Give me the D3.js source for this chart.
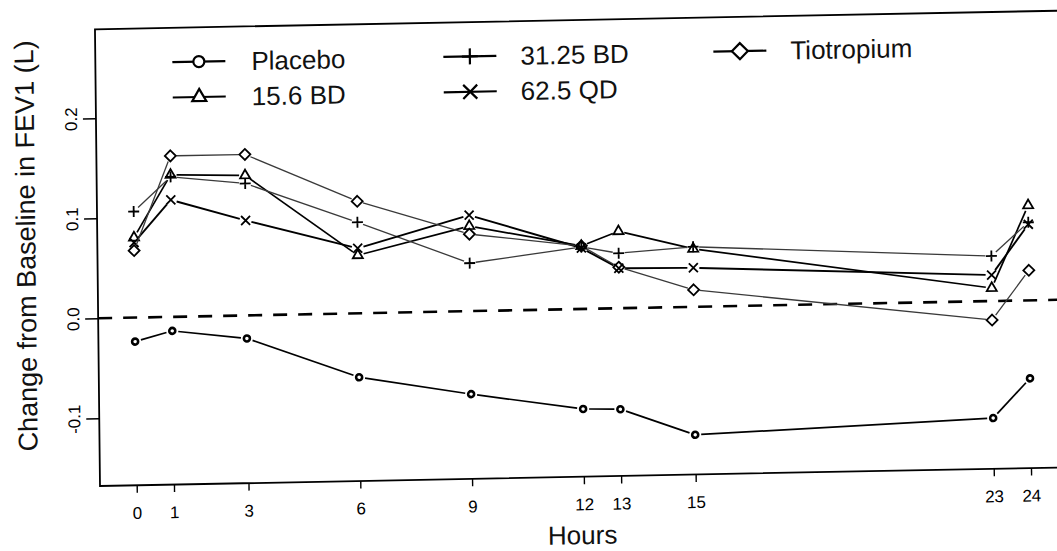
<!DOCTYPE html>
<html>
<head>
<meta charset="utf-8">
<script src="https://cdn.jsdelivr.net/npm/d3@7"></script>
<style>
  html, body { margin: 0; padding: 0; background: #fff; }
  svg { display: block; font-family: "Liberation Sans", Arial, Helvetica, sans-serif; }
</style>
</head>
<body>
<svg id="chart" width="1057" height="551"></svg>
<script>
// Time points (hours after dose) and tick labels
const hours = [0, 1, 3, 6, 9, 12, 13, 15, 23, 24];
const hourLabels = ["0", "1", "3", "6", "9", "12", "13", "15", "23", "24"];
const yTicks = [-0.1, 0.0, 0.1, 0.2];
const yTickLabels = ["-0.1", "0.0", "0.1", "0.2"];

// Mean change from baseline in FEV1 (L) per treatment
const placebo    = [-0.024, -0.014, -0.023, -0.064, -0.083, -0.100, -0.101, -0.128, -0.117, -0.078];
const bd156      = [ 0.080,  0.142,  0.140,  0.058,  0.085,  0.063,  0.077,  0.058,  0.013,  0.095];
const bd3125     = [ 0.106,  0.140,  0.132,  0.091,  0.048,  0.062,  0.055,  0.060,  0.045,  0.078];
const qd625      = [ 0.075,  0.117,  0.095,  0.065,  0.096,  0.061,  0.040,  0.039,  0.026,  0.076];
const tiotropium = [ 0.067,  0.161,  0.161,  0.112,  0.077,  0.063,  0.041,  0.017, -0.019,  0.030];

const seriesNames = ["Placebo", "15.6 BD", "31.25 BD", "62.5 QD", "Tiotropium"];
const seriesValues = [placebo, bd156, bd3125, qd625, tiotropium];
const seriesMarkers = ["circle", "triangle", "plus", "times", "diamond"];
const seriesStroke = ["#000", "#000", "#3a3a3a", "#000", "#3a3a3a"];
const seriesWidth = [1.7, 1.7, 1.3, 1.9, 1.3];

const svg = d3.select("#chart");

// The whole figure sits on a slightly sheared page
const page = svg.append("g")
  .attr("transform", "matrix(1,-0.0193,0.011,1,-5.35,1.93)");

const x = d3.scaleLinear().domain([0, 24]).range([136.7, 1031]);
const y = d3.scaleLinear().domain([-0.1, 0.2]).range([418.3, 118.3]);

const frameLeft = 100, frameRight = 1075;
const frameTop = y(0.289), frameBottom = y(-0.1677);

// Plot box
page.append("rect")
  .attr("x", frameLeft).attr("y", frameTop)
  .attr("width", frameRight - frameLeft).attr("height", frameBottom - frameTop)
  .attr("fill", "none").attr("stroke", "#000").attr("stroke-width", 1.8);

// X axis ticks and labels
const xAxis = d3.axisBottom(x)
  .tickValues(hours)
  .tickFormat((d, i) => hourLabels[i])
  .tickSizeInner(7.5).tickSizeOuter(0).tickPadding(14);
const gx = page.append("g").attr("transform", `translate(0,${frameBottom})`).call(xAxis);
gx.select(".domain").remove();
gx.selectAll(".tick line").attr("stroke", "#000").attr("stroke-width", 1.4);
gx.selectAll(".tick text")
  .attr("font-size", 17).attr("fill", "#000")
  .attr("font-family", "\"Liberation Sans\", Arial, sans-serif");

// Y axis ticks and labels (labels run vertically)
const yAxis = d3.axisLeft(y)
  .tickValues(yTicks)
  .tickFormat((d, i) => yTickLabels[i])
  .tickSizeInner(13).tickSizeOuter(0).tickPadding(0);
const gy = page.append("g").attr("transform", `translate(${frameLeft},0)`).call(yAxis);
gy.select(".domain").remove();
gy.selectAll(".tick line").attr("stroke", "#000").attr("stroke-width", 1.4);
gy.selectAll(".tick text")
  .attr("x", null).attr("dy", null)
  .attr("text-anchor", "middle")
  .attr("transform", "translate(-19,0) rotate(-90)")
  .attr("font-size", 17).attr("fill", "#000")
  .attr("font-family", "\"Liberation Sans\", Arial, sans-serif");

// Axis titles
page.append("text")
  .attr("transform", `translate(38,${y(0.0737)}) rotate(-90)`)
  .attr("text-anchor", "middle")
  .attr("font-size", 27)
  .attr("fill", "#111")
  .text("Change from Baseline in FEV1 (L)");

page.append("text")
  .attr("x", 582).attr("y", 553.5)
  .attr("text-anchor", "middle")
  .attr("font-size", 26)
  .attr("fill", "#111")
  .text("Hours");

// Reference line at zero change
page.append("line")
  .attr("x1", frameLeft).attr("x2", frameRight)
  .attr("y1", y(0)).attr("y2", y(0))
  .attr("stroke", "#000").attr("stroke-width", 2.6)
  .attr("stroke-dasharray", "14,11");

// Marker shapes (R plotting characters 1-5)
function markerPath(kind, s) {
  const p = d3.path();
  if (kind === "circle") {
    p.moveTo(s, 0); p.arc(0, 0, s, 0, 2 * Math.PI);
  } else if (kind === "triangle") {
    const h = s * Math.sqrt(3) / 2;
    p.moveTo(0, -h * 2 / 3); p.lineTo(s / 2, h / 3); p.lineTo(-s / 2, h / 3); p.closePath();
  } else if (kind === "plus") {
    p.moveTo(-s, 0); p.lineTo(s, 0); p.moveTo(0, -s); p.lineTo(0, s);
  } else if (kind === "times") {
    p.moveTo(-s, -s); p.lineTo(s, s); p.moveTo(-s, s); p.lineTo(s, -s);
  } else if (kind === "diamond") {
    p.moveTo(0, -s); p.lineTo(s, 0); p.lineTo(0, s); p.lineTo(-s, 0); p.closePath();
  }
  return p.toString();
}
const dataSize = { circle: 3.0, triangle: 10, plus: 5.5, times: 4.5, diamond: 5.5 };
const legendSize = { circle: 5.5, triangle: 14, plus: 8, times: 7, diamond: 8 };

// Series: segments with a small gap around each point, then markers
const gap = 6;
seriesValues.forEach((vals, si) => {
  const pts = hours.map((h, i) => [x(h), y(vals[i])]);
  const g = page.append("g");
  const segs = d3.pairs(pts).map(([a, b]) => {
    const dx = b[0] - a[0], dy = b[1] - a[1];
    const len = Math.hypot(dx, dy);
    const ux = dx / len, uy = dy / len;
    return [[a[0] + ux * gap, a[1] + uy * gap], [b[0] - ux * gap, b[1] - uy * gap], len];
  }).filter(s => s[2] > 2 * gap);
  g.selectAll("line.seg").data(segs).join("line")
    .attr("class", "seg")
    .attr("x1", d => d[0][0]).attr("y1", d => d[0][1])
    .attr("x2", d => d[1][0]).attr("y2", d => d[1][1])
    .attr("stroke", seriesStroke[si]).attr("stroke-width", seriesWidth[si]);
  const kind = seriesMarkers[si];
  g.selectAll("path.pt").data(pts).join("path")
    .attr("class", "pt")
    .attr("transform", d => `translate(${d[0]},${d[1]})`)
    .attr("d", markerPath(kind, dataSize[kind]))
    .attr("fill", "none")
    .attr("stroke", "#000")
    .attr("stroke-width", kind === "circle" ? 2.6 : 1.8);
});

// Legend (three columns, two rows)
const legendPos = [
  { x: 177, y: 63.6, tx: 256 },
  { x: 177, y: 99,   tx: 256 },
  { x: 448, y: 63.6, tx: 525 },
  { x: 448, y: 99,   tx: 525 },
  { x: 718, y: 63.6, tx: 795 }
];
const legend = page.append("g");
seriesNames.forEach((name, si) => {
  const pos = legendPos[si];
  const kind = seriesMarkers[si];
  legend.append("line")
    .attr("x1", pos.x).attr("x2", pos.x + 53)
    .attr("y1", pos.y).attr("y2", pos.y)
    .attr("stroke", "#000").attr("stroke-width", 2.2);
  legend.append("path")
    .attr("transform", `translate(${pos.x + 26.5},${pos.y})`)
    .attr("d", markerPath(kind, legendSize[kind]))
    .attr("fill", kind === "plus" || kind === "times" ? "none" : "#fff")
    .attr("stroke", "#000").attr("stroke-width", 2.2);
  legend.append("text")
    .attr("x", pos.tx).attr("y", pos.y + 9.3)
    .attr("font-size", 26).attr("fill", "#111")
    .text(name);
});
</script>
</body>
</html>
